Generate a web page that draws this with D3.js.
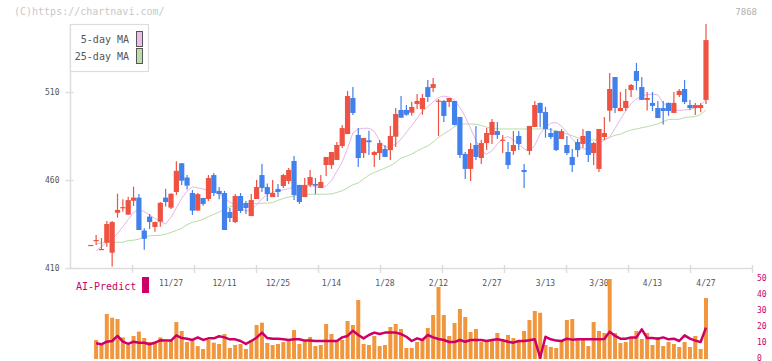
<!DOCTYPE html>
<html><head><meta charset="utf-8">
<script src="https://cdn.jsdelivr.net/npm/d3@7"></script>
<style>
html,body{margin:0;padding:0;background:#fff;}
svg{display:block;font-family:"DejaVu Sans Mono",monospace;}
</style></head><body>
<svg id="c" width="772" height="361"></svg>
<script>
// ---- data (index 0 .. 115 = trading days, last = 4/27) ----
const openP  = [423.1,425.9,420.8,424.4,418.7,441.4,444.4,440.3,448.2,450.0,431.3,439.2,433.3,436.3,450.0,444.3,453.2,469.5,461.4,452.6,442.6,449.8,449.2,462.8,453.8,452.6,441.8,436.1,450.9,446.9,439.5,449.2,462.8,456.0,450.3,454.9,456.6,459.4,470.8,457.2,450.3,457.2,457.7,455.5,468.5,468.5,471.4,479.3,486.1,506.6,485.6,475.3,482.5,474.2,475.3,477.6,477.0,484.6,499.8,499.8,498.2,503.2,500.3,512.8,512.3,504.6,504.9,504.3,504.9,495.8,474.8,466.3,479.9,472.5,481.0,485.6,487.8,482.5,475.9,476.5,485.0,465.7,476.5,490.1,503.8,498.6,486.7,487.8,483.3,479.9,473.1,481.6,480.5,487.8,475.3,466.3,484.4,499.4,518.5,499.2,500.9,511.1,521.9,512.8,505.5,503.8,500.9,500.9,503.8,498.1,508.3,511.7,502.6,500.9,500.9,505.5];
const highP  = [423.1,428.7,427.0,436.7,436.7,452.2,449.0,450.5,456.2,452.0,432.6,440.7,436.3,447.5,455.0,452.4,470.6,469.7,462.9,454.3,452.6,449.8,462.8,464.0,456.0,453.8,444.1,452.0,452.6,448.0,452.0,460.0,469.1,458.0,460.0,457.7,463.4,466.8,473.6,457.2,461.1,465.7,461.1,462.8,473.1,476.0,481.6,491.2,510.6,512.8,489.5,483.9,488.0,476.5,482.7,479.9,490.7,500.9,507.7,502.6,504.5,508.9,508.9,516.8,518.0,506.0,505.5,506.6,505.0,496.0,475.9,481.0,490.7,482.7,489.5,494.7,493.0,485.6,481.6,487.8,487.8,469.1,490.7,504.9,504.0,501.5,489.5,488.0,489.0,485.0,477.6,483.3,489.0,488.0,481.6,489.0,495.8,520.8,518.5,510.0,511.7,514.5,526.5,518.5,510.0,510.0,504.9,504.9,504.0,510.0,511.7,516.8,505.5,503.8,503.8,548.6];
const lowP   = [423.1,423.1,420.8,422.1,410.8,438.6,442.0,440.3,445.2,431.6,420.3,432.2,430.6,433.5,445.0,443.5,451.5,457.1,454.6,440.1,442.6,445.3,448.1,450.9,449.0,431.6,436.1,435.6,441.3,440.7,439.5,449.2,453.2,448.0,450.3,450.3,455.5,457.7,448.6,446.4,450.3,456.0,452.0,455.5,462.3,466.3,471.4,478.2,486.1,496.9,467.4,472.5,474.2,467.4,471.4,473.1,471.4,478.8,495.4,496.5,496.5,500.3,497.1,504.3,510.0,485.0,493.0,501.5,491.0,472.5,460.6,459.4,471.4,469.1,477.0,480.5,483.3,475.3,466.3,474.2,477.0,455.5,474.2,490.1,490.0,484.0,483.3,476.5,483.3,474.2,464.5,473.1,478.2,470.2,468.5,464.5,482.7,493.1,498.1,499.0,499.2,507.2,511.0,505.5,499.5,499.2,495.2,491.5,496.4,498.1,507.2,503.2,499.8,496.9,498.5,503.2];
const closeP = [423.1,425.9,420.8,435.0,436.1,443.0,444.6,448.6,450.0,431.6,426.6,436.1,436.1,447.0,447.5,452.2,465.2,459.6,456.8,442.6,452.0,446.4,461.1,452.6,452.0,431.6,438.4,450.9,442.4,444.1,448.6,456.0,455.5,452.0,452.6,453.2,462.8,465.7,451.5,447.5,457.2,461.7,456.8,458.9,473.1,475.9,479.9,489.5,507.7,498.1,472.5,483.9,481.5,475.9,481.0,473.1,485.0,497.5,495.4,497.1,501.5,504.9,506.6,507.2,514.5,505.1,496.4,506.6,491.3,474.2,466.3,477.6,473.1,481.0,486.7,493.0,485.6,482.9,468.5,479.9,480.5,464.5,490.7,502.6,498.1,489.0,484.4,477.0,487.8,475.3,468.5,477.0,485.0,474.2,481.0,489.0,486.7,511.7,500.9,500.9,504.9,514.0,516.3,505.5,506.6,502.1,495.2,499.2,499.2,503.8,510.6,504.3,500.9,502.6,502.6,539.5];
const ma5  = [null,419.8,422.1,424.4,426.6,429.5,433.5,437.6,441.5,443.5,442.0,440.1,438.2,436.6,435.0,438.9,444.1,449.6,453.6,456.1,455.6,454.9,453.8,453.2,452.1,449.8,447.4,446.0,444.0,442.4,443.1,445.8,449.3,451.7,453.1,453.7,454.4,455.1,456.1,456.1,456.0,457.0,456.1,455.5,456.5,459.6,464.9,470.2,478.0,486.8,488.9,489.4,489.4,487.7,482.2,478.6,478.9,480.5,483.2,487.1,490.9,495.1,499.1,501.7,504.4,506.8,507.7,507.1,505.3,501.3,495.9,489.3,482.4,476.6,474.6,476.6,480.5,483.6,484.7,482.7,480.4,477.6,476.5,479.7,486.2,489.8,492.3,492.6,490.6,487.2,483.4,479.7,477.6,477.7,479.0,481.3,482.4,484.4,489.3,494.4,499.4,503.4,506.0,507.8,508.5,508.8,508.4,503.8,501.1,500.0,499.5,499.8,500.1,501.2,502.5,505.7];
const ma25 = [null,423.6,424.2,424.6,424.6,424.6,424.6,425.6,425.8,426.4,427.6,428.3,428.5,428.6,429.2,430.2,431.3,432.6,434.6,436.0,436.7,437.7,439.2,440.5,441.8,443.2,444.8,445.5,446.2,446.4,446.5,446.6,446.8,446.9,447.1,448.5,449.5,450.3,450.9,451.4,451.7,451.9,451.9,451.9,451.9,452.1,452.9,453.9,455.5,457.3,458.3,460.6,462.8,464.3,465.4,466.8,468.2,470.0,472.5,473.5,474.8,476.5,478.0,479.4,481.5,484.2,486.3,488.1,490.3,491.8,491.8,491.8,491.7,491.0,490.0,489.3,489.1,489.0,489.0,489.0,489.0,489.0,489.0,489.0,489.0,488.9,488.6,488.0,487.2,486.1,485.1,484.0,483.2,482.8,482.7,482.7,483.2,484.2,485.4,486.0,487.4,488.4,489.0,489.7,490.3,491.1,491.9,493.1,494.4,494.5,494.5,495.5,495.8,496.0,497.2,499.8];
const volume = [null,11.9,8.75,28.1,25.8,25,13.5,8.75,14.4,17.1,13.1,10.6,10.8,13.5,10.6,11.9,23.1,17.5,10.6,12.5,8.1,6.25,11.9,10.2,9.4,15.6,6.9,8.75,9.4,6.25,11.9,21.25,22.7,10,8.75,9.4,10.6,11.9,18.1,9.4,11.25,13.75,8.1,8.75,21.9,15.6,11.25,11.9,23.75,21.25,36.9,9.4,8.75,14.4,8.1,8.75,20,21.9,18.75,6.9,6.9,10.6,11.9,19.4,27.5,45,27.5,14.4,22.5,31.25,26.25,16.9,18.75,10.6,10.6,11.9,16.25,11.9,15,13.1,11.9,17.5,24.4,30,28.9,8.75,7.5,6.9,11.9,24.4,25,11.9,11.9,8.1,23.1,17.5,16.25,50,16.25,10,10.6,13.75,17.5,12.5,16.25,8.75,13.75,8.1,10.6,9.4,7.5,10.6,7.5,14.4,6.25,38.1];
const aiPredict = [null,9.8,9.2,10.8,11.25,14.4,10.8,9.4,10.8,10.2,10.2,9.2,10.2,11.7,11.5,11.5,14.8,13.1,12.7,11.9,13.5,11.9,12.9,12.9,14.2,13.5,12.3,12.3,11.25,9.4,11.25,13.3,16.5,13.1,12.7,12.7,12.3,11.9,12.3,12.3,11.5,11.5,11.25,11.25,11.25,11.25,11.25,13.5,14.4,17.7,15,12.9,15,16.5,15.6,16.5,16.5,16.5,15.6,13.9,11.25,12.9,11.9,15,13.5,12.5,11.9,10.6,10.6,11.9,10.8,11.9,11.9,11.9,11.25,11.9,12.3,11.7,10.8,10.2,11.25,11.25,11.7,12.3,0.8,13.9,12.3,11.5,11.25,12.7,12.1,12.3,12.3,12.3,12.3,12.3,12.5,17.1,14.4,12.7,12.7,13.5,13.5,18.5,13.1,13.1,12.7,13.5,12.3,12.7,11.25,14.8,12.7,11.5,10.6,19.6];
const dateLabelIdx = [15,25,35,45,55,65,75,85,95,105,115];
const dateLabels = ["11/27","12/11","12/25","1/14","1/28","2/12","2/27","3/13","3/30","4/13","4/27"];
const priceTicks = [410,460,510];
const subTicks = [0,10,20,30,40,50];

// ---- scales ----
const svg = d3.select("#c");
const x = d3.scaleLinear().domain([-3.88, 123.6]).range([70, 752]);
const xFrame = d3.scaleLinear().domain([0, 11]).range([70, 752]);
const y = d3.scaleLinear().domain([410, 550]).range([268, 21.6]);
const yv = d3.scaleLinear().domain([0, 50]).range([359, 279]);
const idx = d3.range(openP.length);
const RED = "#f05242", BLUE = "#4280ec";

// header
svg.append("text").attr("x",14).attr("y",15).attr("font-size",10).attr("fill","#c8c8c8").text("(C)https://chartnavi.com/");
svg.append("text").attr("x",757).attr("y",15).attr("text-anchor","end").attr("font-size",9).attr("fill","#b0b0b0").text("7868");

// left axis
svg.append("line").attr("x1",70.5).attr("x2",70.5).attr("y1",24).attr("y2",268).attr("stroke","#ddd").attr("stroke-width",1.5);
const ya = svg.append("g").attr("transform","translate(70.5,0)")
  .call(d3.axisLeft(y).tickValues(priceTicks).tickSize(5).tickPadding(6));
ya.select(".domain").remove();
ya.selectAll(".tick line").attr("x1",-5).attr("x2",3).attr("stroke","#ddd").attr("stroke-width",1.5);
ya.selectAll(".tick text").attr("font-size",8).attr("fill","#555").attr("font-family","DejaVu Sans Mono");

// bottom axis frame
const xa = svg.append("g").attr("transform","translate(0,268)")
  .call(d3.axisBottom(xFrame).tickValues(d3.range(1,12)).tickSize(5).tickSizeOuter(0).tickFormat(""));
xa.select(".domain").attr("stroke","#ddd").attr("stroke-width",1.5);
xa.selectAll(".tick line").attr("y1",-3).attr("y2",5).attr("stroke","#ddd").attr("stroke-width",1.5);

// moving averages
const lineGen = arr => d3.line().defined(i => arr[i] != null).x(i => x(i)).y(i => y(arr[i]));
svg.append("path").attr("d", lineGen(ma25)(idx)).attr("fill","none").attr("stroke","#b8dca8").attr("stroke-width",1);
svg.append("path").attr("d", lineGen(ma5)(idx)).attr("fill","none").attr("stroke","#eab4ea").attr("stroke-width",1);

// candles
const cg = svg.append("g");
idx.forEach(i => {
  const up = closeP[i] >= openP[i];
  const col = up ? RED : BLUE;
  cg.append("line").attr("x1",x(i)).attr("x2",x(i)).attr("y1",y(highP[i])).attr("y2",y(lowP[i]))
    .attr("stroke",col).attr("stroke-width",1.2);
  const top = y(Math.max(openP[i],closeP[i])), bot = y(Math.min(openP[i],closeP[i]));
  cg.append("rect").attr("x",x(i)-2.6).attr("width",5.2).attr("y",top).attr("height",Math.max(1.2,bot-top)).attr("fill",col);
});

// legend
svg.append("rect").attr("x",70.5).attr("y",24.5).attr("width",78).attr("height",47).attr("fill","#fff").attr("stroke","#ddd").attr("stroke-width",1.2);
svg.append("text").attr("x",129).attr("y",43).attr("text-anchor","end").attr("font-size",10).attr("fill","#555").text("5-day MA");
svg.append("text").attr("x",129).attr("y",60).attr("text-anchor","end").attr("font-size",10).attr("fill","#555").text("25-day MA");
svg.append("rect").attr("x",136.5).attr("y",31.5).attr("width",6).attr("height",15).attr("fill","#eebbee").attr("stroke","#555");
svg.append("rect").attr("x",136.5).attr("y",48.5).attr("width",6).attr("height",15).attr("fill","#bbddaa").attr("stroke","#555");

// date labels
svg.append("g").selectAll("text").data(dateLabelIdx).join("text")
  .attr("x", d => x(d)).attr("y",286).attr("text-anchor","middle").attr("font-size",8).attr("fill","#555")
  .text((d,k) => dateLabels[k]);

// AI-Predict label
svg.append("text").attr("x",76).attr("y",290).attr("font-size",10).attr("fill","#cc0066").text("AI-Predict");
svg.append("rect").attr("x",142).attr("y",277).attr("width",7).attr("height",16).attr("fill","#cc0066");

// volume bars
svg.append("g").selectAll("rect").data(idx.filter(i => volume[i] != null)).join("rect")
  .attr("x", i => x(i)-2).attr("width",4).attr("y", i => yv(volume[i])).attr("height", i => yv(0)-yv(volume[i]))
  .attr("fill","#f0963c");

// AI predict line
svg.append("path").attr("d", d3.line().defined(i => aiPredict[i] != null).x(i => x(i)).y(i => yv(aiPredict[i]))(idx))
  .attr("fill","none").attr("stroke","#cc0066").attr("stroke-width",2.5).attr("stroke-linejoin","round");

// right sub-axis labels
svg.append("g").selectAll("text").data(subTicks).join("text")
  .attr("x",757).attr("y", d => yv(d)-1).attr("dominant-baseline","central").attr("font-size",8).attr("fill","#cc0066")
  .text(d => d);
</script>
</body></html>
